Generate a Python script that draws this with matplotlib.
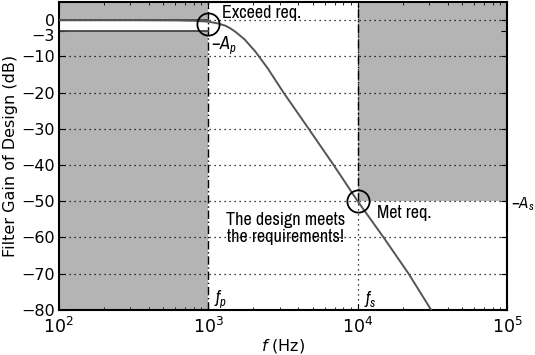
import matplotlib
matplotlib.use("Agg")
import matplotlib.pyplot as plt
import matplotlib.transforms as mtransforms

# Data
freq_hz = [100, 300, 600, 800, 1000, 1150, 1300, 1400, 1520, 1750, 2060, 2500, 3190, 4700, 6900, 10000, 14900, 21900, 31000]
gain_db = [0, 0, -0.05, -0.15, -0.4, -0.85, -1.5, -2.2, -3.2, -5.3, -8.6, -13.3, -20, -30, -40, -50, -60, -70, -80]

f_pass = 1e3
f_stop = 1e4
a_pass = -3
a_stop = -50
ytick_vals = [0, -3, -10, -20, -30, -40, -50, -60, -70, -80]
ytick_labels = ["0", "\u22123", "\u221210", "\u221220", "\u221230", "\u221240", "\u221250", "\u221260", "\u221270", "\u221280"]
xtick_vals = [1e2, 1e3, 1e4, 1e5]
xtick_labels = [r"$10^{2}$", r"$10^{3}$", r"$10^{4}$", r"$10^{5}$"]

plt.rcParams["xtick.direction"] = "in"
plt.rcParams["ytick.direction"] = "in"
plt.rcParams["xtick.top"] = True
plt.rcParams["ytick.right"] = True
plt.rcParams["xtick.major.size"] = 4
plt.rcParams["ytick.major.size"] = 4
plt.rcParams["xtick.minor.size"] = 2.5
plt.rcParams["mathtext.fontset"] = "custom"
plt.rcParams["mathtext.rm"] = "DejaVu Sans"
plt.rcParams["mathtext.it"] = "DejaVu Sans:italic"
plt.rcParams["mathtext.bf"] = "DejaVu Sans:bold"
plt.rcParams["mathtext.sf"] = "Archivo Narrow:italic"

narrow = ["Archivo Narrow", "DejaVu Sans"]

fig = plt.figure(figsize=(5.35, 3.55), dpi=100)
ax = fig.add_axes([0.110, 0.127, 0.838, 0.867])
ax.set_xscale("log")
ax.set_xlim(1e2, 1e5)
ax.set_ylim(-80, 5)

gray = "#b4b4b4"
# shaded forbidden regions
ax.fill_between([1e2, f_pass], -80, a_pass, color=gray, lw=0, zorder=0)
ax.fill_between([1e2, f_pass], 0, 5, color=gray, lw=0, zorder=0)
ax.fill_between([f_stop, 1e5], a_stop, 5, color=gray, lw=0, zorder=0)

# grid
for yv in ytick_vals:
    if yv == a_pass:
        continue
    ax.axhline(yv, color="k", ls=(0, (1, 3)), lw=0.9, zorder=1)
ax.axvline(f_stop, color="k", ls=(0, (1, 3)), lw=0.9, zorder=1)

# region edges
ax.axvline(f_pass, color="k", ls=(0, (6, 2, 1, 2)), lw=1.0, zorder=2)
ax.plot([f_stop, f_stop], [a_stop, 5], color="k", ls=(0, (6, 2, 1, 2)), lw=1.0, zorder=2)
ax.plot([1e2, f_pass], [a_pass, a_pass], color="#444444", lw=1.3, zorder=2)
ax.plot([1e2, f_pass], [0, 0], color="#444444", lw=1.3, zorder=2)

# filter response
ax.plot(freq_hz, gain_db, color="#555555", lw=1.4, zorder=3)

# circles
ax.plot([f_pass], [-1], marker="o", ms=16, mfc="none", mec="k", mew=1.3, zorder=4)
ax.plot([f_stop], [a_stop], marker="o", ms=16, mfc="none", mec="k", mew=1.3, zorder=4)

# annotations
ax.text(1.23e3, 2.1, "Exceed req.", fontsize=13, family=narrow, va="center", ha="left")
ax.text(1.05e3, -6.8, r"$\mathsf{-A_p}$", fontsize=13, va="center", ha="left")
ax.text(1.35e4, -53.2, "Met req.", fontsize=13, family=narrow, va="center", ha="left")
ax.text(1.008, (a_stop + 80) / 85.0 - 0.01, r"$\mathsf{-A_s}$", fontsize=12, va="center", ha="left",
        transform=ax.transAxes, clip_on=False)
ax.text(3.27e3, -57.5, "The design meets\nthe requirements!", fontsize=13, family=narrow,
        va="center", ha="center", linespacing=1.05)
ax.text(1.1e3, -77, r"$\mathsf{f_p}$", fontsize=13, va="center", ha="left")
ax.text(1.1e4, -77, r"$\mathsf{f_s}$", fontsize=13, va="center", ha="left")

ax.set_yticks(ytick_vals)
ax.set_yticklabels(ytick_labels, fontsize=11.5)
ax.set_xticks(xtick_vals)
ax.set_xticklabels(xtick_labels, fontsize=12.5)
ax.tick_params(axis="y", pad=3)
ax.tick_params(axis="x", pad=5)
# nudge the crowded "-3" label slightly downward, as in the reference
lbl = ax.get_yticklabels()[1]
lbl.set_transform(lbl.get_transform() + mtransforms.ScaledTranslation(0, -3 / 72, fig.dpi_scale_trans))
ax.set_xlabel(r"$f$ (Hz)", fontsize=11.5, labelpad=0)
ax.set_ylabel("Filter Gain of Design (dB)", fontsize=11.5, labelpad=2)
for s in ax.spines.values():
    s.set_linewidth(1.5)

fig.savefig("out.png", dpi=100)
